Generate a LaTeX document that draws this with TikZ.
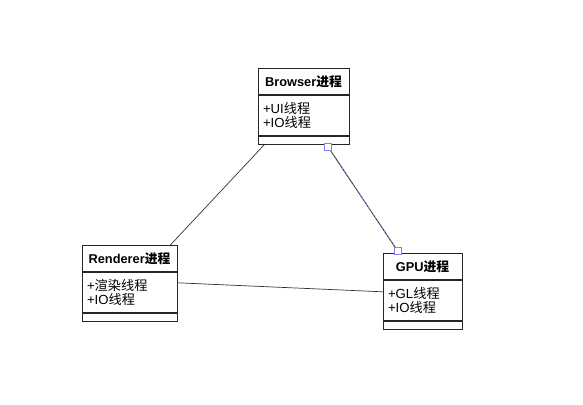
\documentclass[tikz,border=0pt]{standalone}
\usepackage{fontspec}
\setmainfont{Liberation Sans}
\newfontfamily\cjk{Noto Sans CJK SC}
\newcommand{\zh}[1]{{\cjk #1}}
\usetikzlibrary{positioning, calc}

\begin{document}
\begin{tikzpicture}[x=1pt, y=-1pt,
    classname/.style={rectangle, draw=black!85, thick, fill=white, minimum height=26pt, align=center, font=\fontsize{12.8}{14}\selectfont\bfseries, anchor=north, inner sep=0pt},
    class/.style={rectangle, draw=black!85, thick, fill=white, minimum height=40pt, align=left, font=\fontsize{13.2}{14}\selectfont, inner sep=5pt},
    classmeth/.style={rectangle, draw=black!85, thick, fill=white, minimum height=8pt, inner sep=0pt},
    link/.style={draw=black!80, line width=0.7pt},
    handle/.style={rectangle, draw=blue!50, fill=white, line width=0.9pt, minimum size=7pt, inner sep=0pt},
    node distance=0pt
]
\useasboundingbox (0,0) rectangle (583,404);

% Browser class
\node[classname, minimum width=91pt] (browsername) at (303.5,68) {Browser\zh{进程}};
\node[class, minimum width=91pt, text width=81pt, below=0pt of browsername] (browserattr) {+UI\zh{线程}\\+IO\zh{线程}};
\node[classmeth, minimum width=91pt, below=0pt of browserattr] (browsermeth) {};

% Renderer class
\node[classname, minimum width=95pt] (rendername) at (129.5,245) {Renderer\zh{进程}};
\node[class, minimum width=95pt, text width=85pt, below=0pt of rendername] (renderattr) {+\zh{渲染线程}\\+IO\zh{线程}};
\node[classmeth, minimum width=95pt, below=0pt of renderattr] (rendermeth) {};

% GPU class
\node[classname, minimum width=79pt] (gpuname) at (422.5,253) {GPU\zh{进程}};
\node[class, minimum width=79pt, text width=69pt, below=0pt of gpuname] (gpuattr) {+GL\zh{线程}\\+IO\zh{线程}};
\node[classmeth, minimum width=79pt, below=0pt of gpuattr] (gpumeth) {};

% Relationships
\draw[link] ($(browsermeth.south west)+(7,0)$) -- ($(rendername.north east)+(-7,0)$);
\draw[link] ($(renderattr.north east)+(0,11)$) -- ($(gpuattr.north west)+(0,12)$);

% selected link with its handles
\coordinate (selA) at ($(browsermeth.south east)+(-21,3)$);
\coordinate (selB) at ($(gpuname.north west)+(15,-2)$);
\draw[draw=black!75, line width=1pt] (selA) -- (selB);
\draw[blue!45, dashed, dash pattern=on 2pt off 2pt, line width=0.5pt] (selA) -- (selB);
\node[handle] (hA) at (selA) {};
\node[handle] (hB) at (selB) {};

\end{tikzpicture}
\end{document}
